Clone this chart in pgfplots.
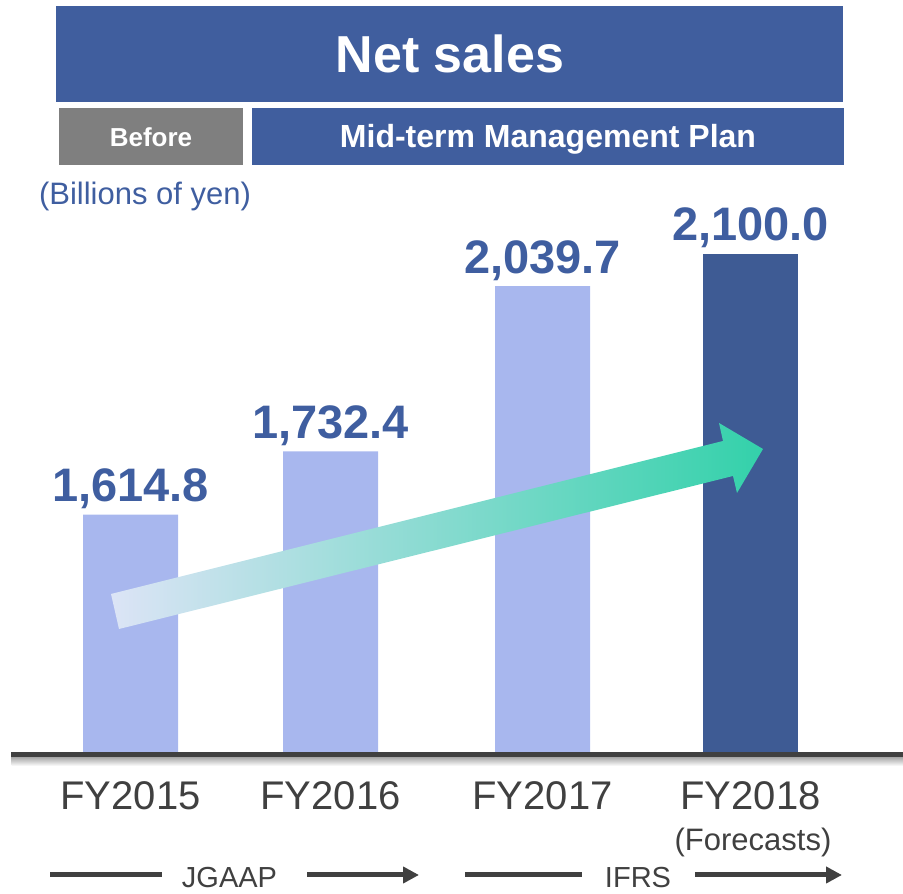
\documentclass[border=0pt]{standalone}
\usepackage{pgfplots}
\pgfplotsset{compat=1.18}
\usepackage{fontspec}
\setmainfont{Liberation Sans}
\usetikzlibrary{arrows.meta}
\definecolor{titleblue}{HTML}{405E9E}
\definecolor{beforegray}{HTML}{7F7F7F}
\definecolor{barlight}{HTML}{A8B7EE}
\definecolor{bardark}{HTML}{3E5B94}
\definecolor{labelblue}{HTML}{3F5EA0}
\definecolor{textgray}{HTML}{404040}
\definecolor{arrowstart}{HTML}{DCE4F6}
\definecolor{arrowend}{HTML}{33D1AA}
\begin{document}
\begin{tikzpicture}[x=1pt,y=1pt]
\path[use as bounding box] (0,0) rectangle (903,894);
% header boxes
\fill[titleblue] (56,792) rectangle (843,888);
\node[anchor=base, text=white, font=\bfseries\fontsize{52}{60}\selectfont] at (450,821) {Net sales};
\fill[beforegray] (59,729) rectangle (243,786);
\node[anchor=base, text=white, font=\bfseries\fontsize{26}{30}\selectfont] at (151,747) {Before};
\fill[titleblue] (252,729) rectangle (844,786);
\node[anchor=base, text=white, font=\bfseries\fontsize{32}{36}\selectfont] at (548,746) {Mid-term Management Plan};
\node[anchor=base, text=labelblue, font=\fontsize{31}{36}\selectfont] at (145,689) {(Billions of yen)};
% shadow of the axis line
\shade[top color=black!35, bottom color=white] (11.5,128) rectangle (903,137);
\begin{axis}[
  at={(11.5pt,139pt)}, anchor=south west,
  x=1pt, y=0.538pt,
  xmin=11.5, xmax=903, ymin=1168, ymax=2570,
  axis x line=bottom, axis y line=none,
  x axis line style={-, line width=5pt, color=textgray},
  axis on top=true,
  xtick={130.5,330.5,542.5,750.5},
  xticklabels={FY2015,FY2016,FY2017,FY2018},
  major tick length=0pt,
  xticklabel style={font=\fontsize{40}{48}\selectfont, text=textgray, anchor=base, yshift=-55pt},
  ytick=\empty,
  ybar, bar width=95pt,
  nodes near coords,
  point meta=explicit symbolic,
  every node near coord/.append style={font=\bfseries\fontsize{47}{56}\selectfont, text=labelblue, anchor=base, yshift=13pt},
]
\addplot[fill=barlight, draw=none, bar shift=0pt] coordinates {
  (130.5,1614.8) [1,614.8]
  (330.5,1732.4) [1,732.4]
  (542.5,2039.7) [2,039.7]
};
\addplot[fill=bardark, draw=none, bar shift=0pt] coordinates {
  (750.5,2100.0) [2,100.0]
};
\end{axis}
% growth arrow
\shade[left color=arrowstart, right color=arrowend]
  (111,300) -- (723,453) -- (719,471) -- (763,445) -- (737,401) -- (733,418) -- (119,265) -- cycle;
% forecasts note
\node[anchor=base, text=textgray, font=\fontsize{31}{36}\selectfont] at (753,43) {(Forecasts)};
% accounting standards
\draw[textgray, line width=5pt] (50,19) -- (162,19);
\node[anchor=base, text=textgray, font=\fontsize{29}{34}\selectfont, inner sep=0pt] at (229.5,6) {JGAAP};
\draw[textgray, line width=5pt, -{Triangle[length=16pt,width=16pt]}] (307,19) -- (419,19);
\draw[textgray, line width=5pt] (465,19) -- (582,19);
\node[anchor=base, text=textgray, font=\fontsize{29}{34}\selectfont, inner sep=0pt] at (638,6) {IFRS};
\draw[textgray, line width=5pt, -{Triangle[length=16pt,width=16pt]}] (695,19) -- (842,19);
\end{tikzpicture}
\end{document}
